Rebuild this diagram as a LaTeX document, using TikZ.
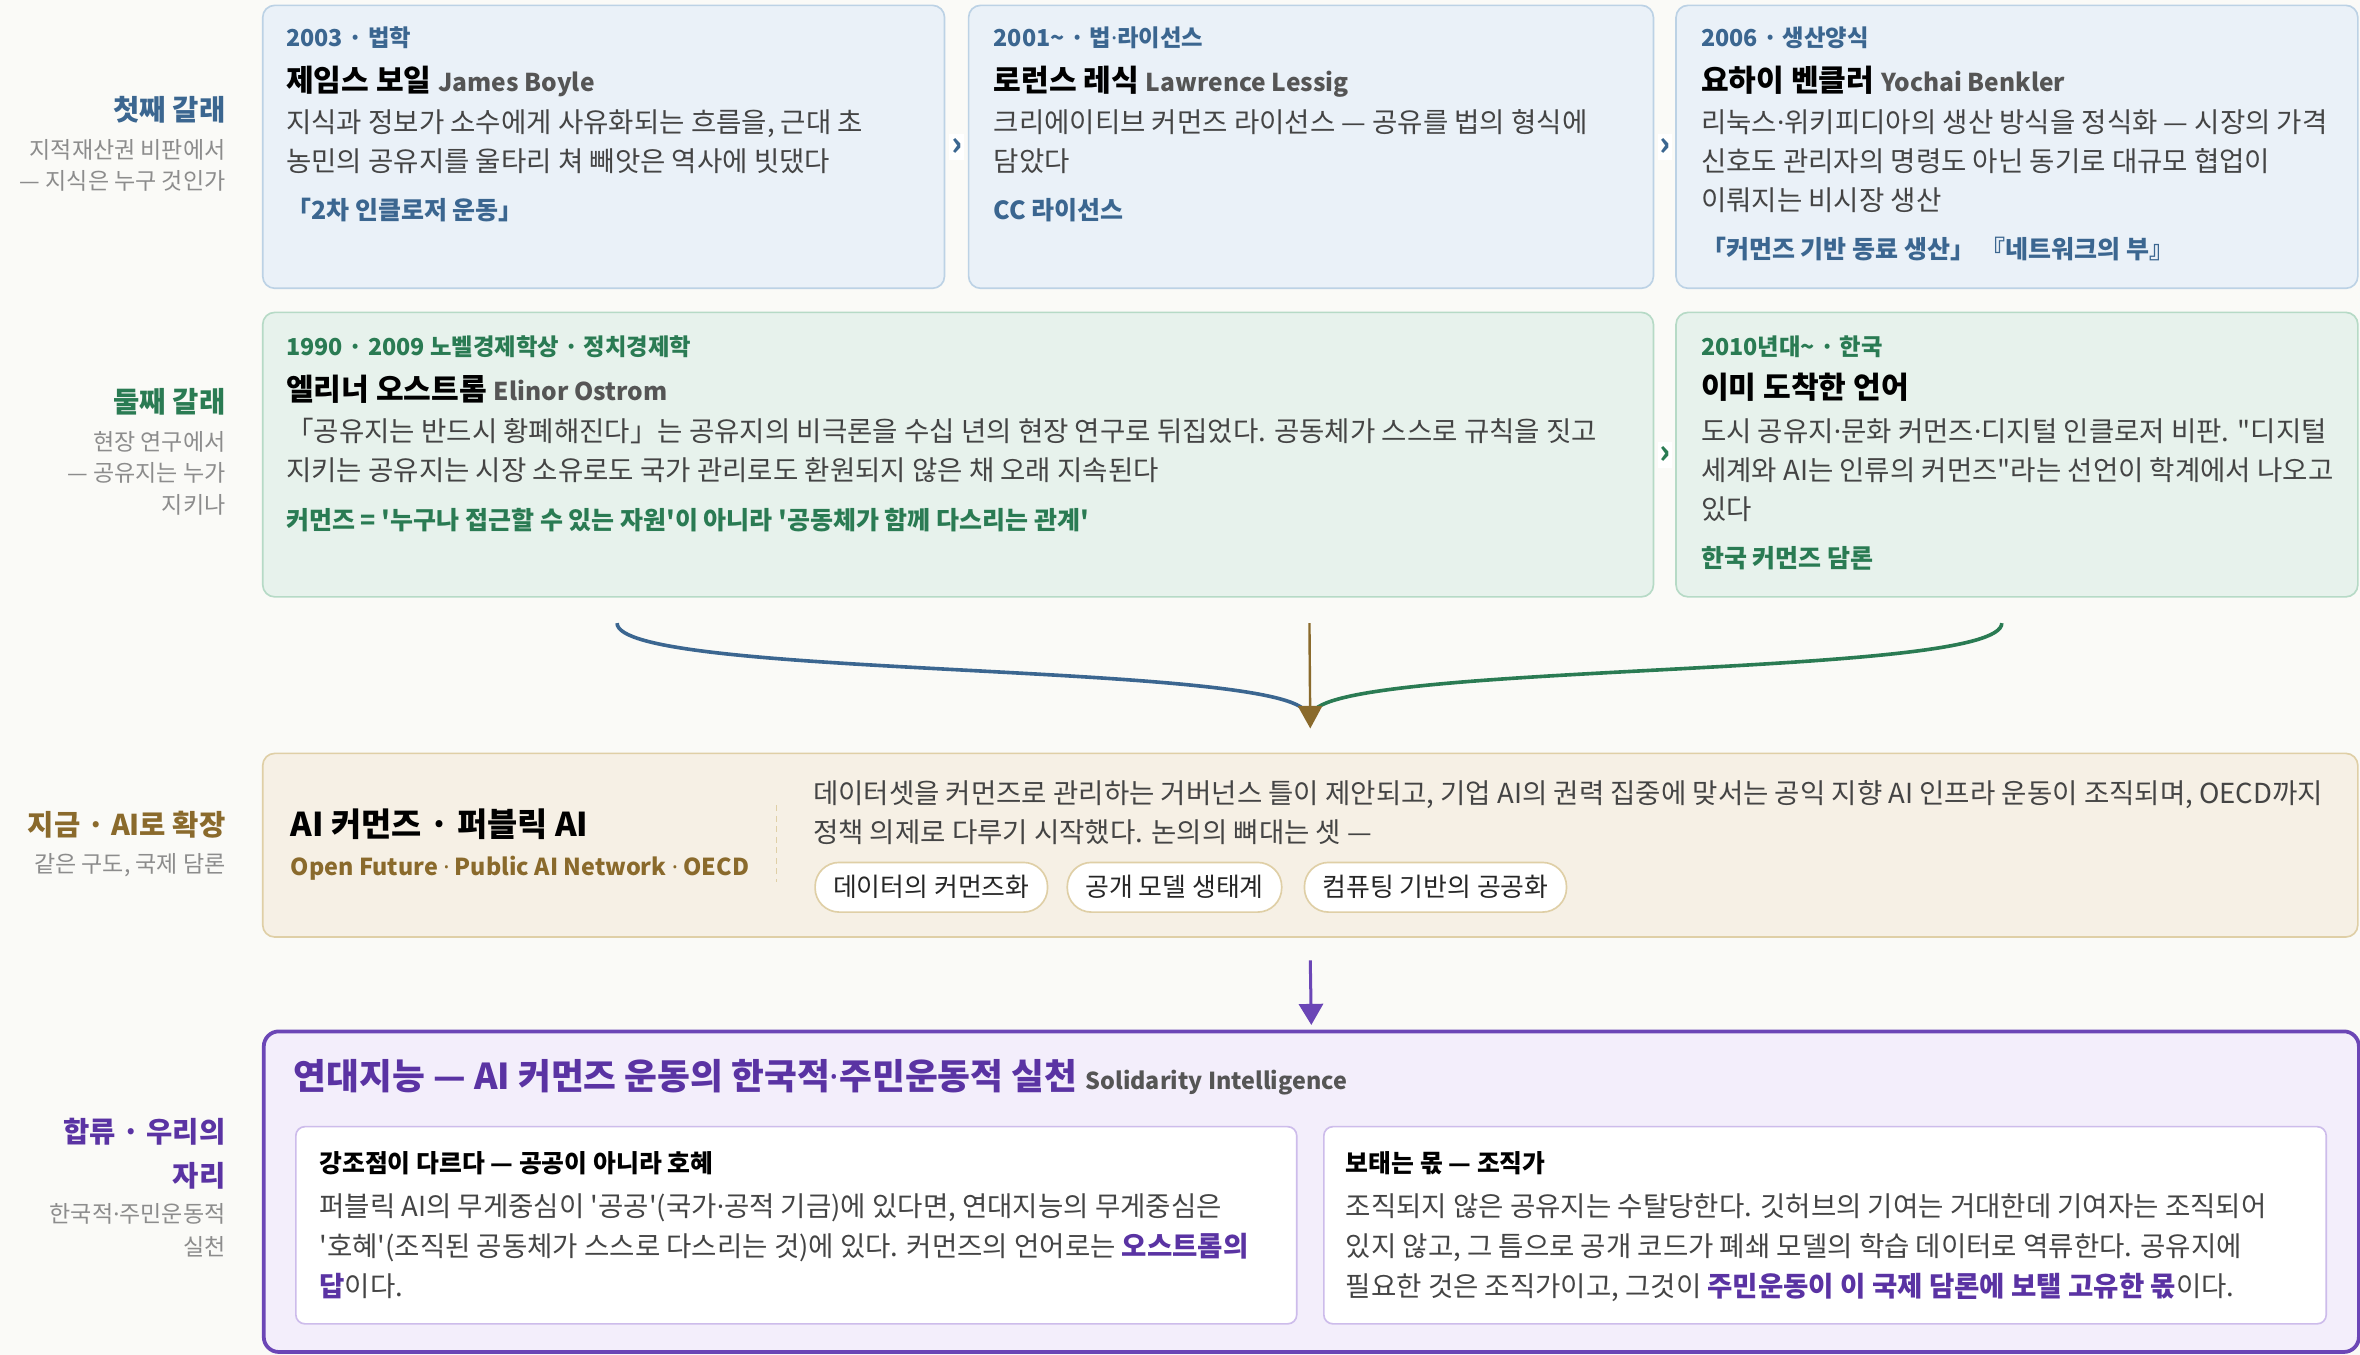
\documentclass[tikz,border=0pt]{standalone}
\usepackage{fontspec}
\setmainfont{Noto Sans CJK KR}[Ligatures=TeXOff]
\newfontfamily\dotfont{Noto Sans}
\usetikzlibrary{calc,positioning,arrows.meta}

\definecolor{pagebg}{HTML}{FAFAF7}
\definecolor{inkblue}{HTML}{3B6690}
\definecolor{fillblue}{HTML}{EAF1F8}
\definecolor{lineblue}{HTML}{BCD2E5}
\definecolor{inkgreen}{HTML}{2A7B53}
\definecolor{fillgreen}{HTML}{E7F2EC}
\definecolor{linegreen}{HTML}{B6DAC6}
\definecolor{inkbrown}{HTML}{8A6A2C}
\definecolor{fillcream}{HTML}{F6F0E5}
\definecolor{linetan}{HTML}{DFCFA6}
\definecolor{inkpurple}{HTML}{5A33A3}
\definecolor{linepurple}{HTML}{6B46B6}
\definecolor{fillpurple}{HTML}{F3EEFB}
\definecolor{lilac}{HTML}{CDBCEB}
\definecolor{bodygray}{HTML}{444444}
\definecolor{notegray}{HTML}{8C8C8C}
\definecolor{namegray}{HTML}{555555}

\newcommand{\engname}[2][16.3]{{\fontsize{#1}{20}\selectfont\color{namegray}#2}}
\newcommand{\pdot}{{\dotfont ·}}

\tikzset{
  card/.style={draw, line width=1.1pt, rounded corners=8pt, anchor=north west, inner sep=0pt},
  lane/.style={anchor=base east, inner sep=0pt, font=\bfseries\fontsize{19}{20}\selectfont},
  lanenote/.style={anchor=base east, inner sep=0pt, text=notegray, font=\fontsize{15.3}{16}\selectfont},
  era/.style={anchor=base west, inner sep=0pt, font=\bfseries\fontsize{15.5}{16}\selectfont},
  who/.style={anchor=base west, inner sep=0pt, font=\bfseries\fontsize{20}{22}\selectfont},
  body/.style={anchor=base west, inner sep=0pt, text=bodygray, font=\fontsize{18.3}{20}\selectfont},
  keyword/.style={anchor=base west, inner sep=0pt, font=\bfseries\fontsize{16.6}{18}\selectfont},
  hop/.style={fill=white, inner xsep=1pt, inner ysep=3pt, font=\bfseries\fontsize{22}{22}\selectfont},
  pill/.style={draw=linetan, fill=white, line width=1.1pt, rounded corners=16pt, minimum height=33pt,
    inner xsep=12pt, inner ysep=0pt, text=black!85, font=\fontsize{17.2}{18}\selectfont},
  flow/.style={line width=2.4pt},
}

\begin{document}
\begin{tikzpicture}[x=1pt,y=-1pt]
\fill[pagebg] (0,0) rectangle (1568,900);
\useasboundingbox (0,0) rectangle (1568,900);

% lane labels
\node[lane, text=inkblue] (lane1) at (150,80) {첫째 갈래};
\node[lanenote] (lane1a) at (150,105) {지적재산권 비판에서};
\node[lanenote] (lane1b) at (150,126) {— 지식은 누구 것인가};
\node[lane, text=inkgreen] (lane2) at (150,274) {둘째 갈래};
\node[lanenote] (lane2a) at (150,299) {현장 연구에서};
\node[lanenote] (lane2b) at (150,320) {— 공유지는 누가};
\node[lanenote] (lane2c) at (150,341) {지키나};
\node[lane, text=inkbrown] (lane3) at (150,555) {지금 · AI로 확장};
\node[lanenote] (lane3a) at (150,580) {같은 구도, 국제 담론};
\node[lane, text=inkpurple] (lane4) at (150,759) {합류 · 우리의};
\node[lane, text=inkpurple] (lane4b) at (150,788) {자리};
\node[lanenote] (lane4c) at (150,812) {한국적\pdot 주민운동적};
\node[lanenote] (lane4d) at (150,834) {실천};

% first branch
\node[card, draw=lineblue, fill=fillblue, minimum width=453pt, minimum height=188pt] (boyle) at (174,3) {};
\node[card, draw=lineblue, fill=fillblue, minimum width=455pt, minimum height=188pt] (lessig) at (643,3) {};
\node[card, draw=lineblue, fill=fillblue, minimum width=453pt, minimum height=188pt] (benkler) at (1113,3) {};

\node[era, text=inkblue] (boyle-era) at (190,31) {2003 · 법학};
\node[who] (boyle-who) at (190,61) {제임스 보일 \engname{James Boyle}};
\foreach \ln [count=\i] in {{지식과 정보가 소수에게 사유화되는 흐름을, 근대 초},
                            {농민의 공유지를 울타리 쳐 빼앗은 역사에 빗댔다}}
    \node[body] (boyle-l\i) at (190,62+26*\i) {\ln};
\node[keyword, text=inkblue] (boyle-key) at (190,146) {「2차 인클로저 운동」};

\node[era, text=inkblue] (lessig-era) at (660,31) {2001\textasciitilde{} · 법\pdot 라이선스};
\node[who] (lessig-who) at (660,61) {로런스 레식 \engname{Lawrence Lessig}};
\foreach \ln [count=\i] in {{크리에이티브 커먼즈 라이선스 — 공유를 법의 형식에},
                            {담았다}}
    \node[body] (lessig-l\i) at (660,62+26*\i) {\ln};
\node[keyword, text=inkblue] (lessig-key) at (660,146) {CC 라이선스};

\node[era, text=inkblue] (benkler-era) at (1130,31) {2006 · 생산양식};
\node[who] (benkler-who) at (1130,61) {요하이 벤클러 \engname{Yochai Benkler}};
\foreach \ln [count=\i] in {{리눅스\pdot 위키피디아의 생산 방식을 정식화 — 시장의 가격},
                            {신호도 관리자의 명령도 아닌 동기로 대규모 협업이},
                            {이뤄지는 비시장 생산}}
    \node[body] (benkler-l\i) at (1130,62+26*\i) {\ln};
\node[keyword, text=inkblue] (benkler-key) at (1130,172) {「커먼즈 기반 동료 생산」 『네트워크의 부』};

\node[hop, text=inkblue] (hop1) at ($(boyle.east)!0.5!(lessig.west)$) {›};
\node[hop, text=inkblue] (hop2) at ($(lessig.east)!0.5!(benkler.west)$) {›};

% second branch
\node[card, draw=linegreen, fill=fillgreen, minimum width=924pt, minimum height=189pt] (ostrom) at (174,207) {};
\node[card, draw=linegreen, fill=fillgreen, minimum width=453pt, minimum height=189pt] (korea) at (1113,207) {};

\node[era, text=inkgreen] (ostrom-era) at (190,236) {1990 · 2009 노벨경제학상 · 정치경제학};
\node[who] (ostrom-who) at (190,266) {엘리너 오스트롬 \engname{Elinor Ostrom}};
\foreach \ln [count=\i] in {{「공유지는 반드시 황폐해진다」는 공유지의 비극론을 수십 년의 현장 연구로 뒤집었다. 공동체가 스스로 규칙을 짓고},
                            {지키는 공유지는 시장 소유로도 국가 관리로도 환원되지 않은 채 오래 지속된다}}
    \node[body] (ostrom-l\i) at (190,267+26*\i) {\ln};
\node[keyword, text=inkgreen] (ostrom-key) at (190,352) {커먼즈 = '누구나 접근할 수 있는 자원'이 아니라 '공동체가 함께 다스리는 관계'};

\node[era, text=inkgreen] (korea-era) at (1130,236) {2010년대\textasciitilde{} · 한국};
\node[who] (korea-who) at (1130,265) {이미 도착한 언어};
\foreach \ln [count=\i] in {{도시 공유지\pdot 문화 커먼즈\pdot 디지털 인클로저 비판. "디지털},
                            {세계와 AI는 인류의 커먼즈"라는 선언이 학계에서 나오고},
                            {있다}}
    \node[body] (korea-l\i) at (1130,267+26*\i) {\ln};
\node[keyword, text=inkgreen] (korea-key) at (1130,377) {한국 커먼즈 담론};

\node[hop, text=inkgreen] (hop3) at ($(ostrom.east)!0.5!(korea.west)$) {›};

% now: AI
\node[card, draw=linetan, fill=fillcream, minimum width=1392pt, minimum height=122pt] (ai) at (174,500) {};
\node[who, font=\bfseries\fontsize{21.8}{24}\selectfont] (ai-who) at (193,556) {AI 커먼즈 · 퍼블릭 AI};
\node[keyword, text=inkbrown, font=\bfseries\fontsize{15.5}{18}\selectfont] (ai-key) at (193,582)
    {Open Future \pdot{} Public AI Network \pdot{} OECD};
\draw[linetan, line width=1pt, dash pattern=on 4pt off 3pt] (516,535) -- (516,586);
\foreach \ln [count=\i] in {{데이터셋을 커먼즈로 관리하는 거버넌스 틀이 제안되고, 기업 AI의 권력 집중에 맞서는 공익 지향 AI 인프라 운동이 조직되며, OECD까지},
                            {정책 의제로 다루기 시작했다. 논의의 뼈대는 셋 —}}
    \node[body] (ai-l\i) at (540,508+26*\i) {\ln};
\node[pill, anchor=west] (pill1) at (541,589.5) {데이터의 커먼즈화};
\node[pill, right=12pt of pill1] (pill2) {공개 모델 생태계};
\node[pill, right=14pt of pill2] (pill3) {컴퓨팅 기반의 공공화};

% confluence
\node[card, draw=linepurple, fill=fillpurple, line width=2.5pt, rounded corners=10pt,
      minimum width=1392pt, minimum height=213pt] (solid) at (174,684) {};
\node[who, text=inkpurple, font=\bfseries\fontsize{23.7}{24}\selectfont] (solid-who) at (195,724)
    {연대지능 — AI 커먼즈 운동의 한국적\pdot 주민운동적 실천 \engname[15.5]{Solidarity Intelligence}};
\node[card, draw=lilac, fill=white, rounded corners=6pt, minimum width=665pt, minimum height=131pt] (reci) at (196,748) {};
\node[card, draw=lilac, fill=white, rounded corners=6pt, minimum width=666pt, minimum height=131pt] (share) at (879,748) {};

\node[who, font=\bfseries\fontsize{16.5}{18}\selectfont] (reci-who) at (212,779) {강조점이 다르다 — 공공이 아니라 호혜};
\foreach \ln [count=\i] in {{퍼블릭 AI의 무게중심이 '공공'(국가\pdot 공적 기금)에 있다면, 연대지능의 무게중심은},
                            {'호혜'(조직된 공동체가 스스로 다스리는 것)에 있다. 커먼즈의 언어로는 \textcolor{inkpurple}{\bfseries 오스트롬의}},
                            {\textcolor{inkpurple}{\bfseries 답}이다.}}
    \node[body] (reci-l\i) at (212,782+26.5*\i) {\ln};

\node[who, font=\bfseries\fontsize{16.5}{18}\selectfont] (share-who) at (894,779) {보태는 몫 — 조직가};
\foreach \ln [count=\i] in {{조직되지 않은 공유지는 수탈당한다. 깃허브의 기여는 거대한데 기여자는 조직되어},
                            {있지 않고, 그 틈으로 공개 코드가 폐쇄 모델의 학습 데이터로 역류한다. 공유지에},
                            {필요한 것은 조직가이고, 그것이 \textcolor{inkpurple}{\bfseries 주민운동이 이 국제 담론에 보탤 고유한 몫}이다.}}
    \node[body] (share-l\i) at (894,782+26.5*\i) {\ln};

% merging flows
\coordinate (blueFoot) at (410,414);
\coordinate (greenFoot) at (1330,414);
\coordinate (brownFoot) at (870,414);
\draw[inkblue, flow] (blueFoot) .. controls (410,450) and (830,440) .. (866,471);
\draw[inkgreen, flow] (greenFoot) .. controls (1330,450) and (910,440) .. (874,471);
\draw[inkbrown, line width=1.6pt, -{Triangle[width=16pt,length=15pt]}] (brownFoot) -- ($(ai.north)+(0,-16)$);
\draw[linepurple, line width=2pt, -{Triangle[width=16pt,length=14pt]}] ($(ai.south)+(0,15)$) -- ($(solid.north)+(0,-3)$);
\end{tikzpicture}
\end{document}
